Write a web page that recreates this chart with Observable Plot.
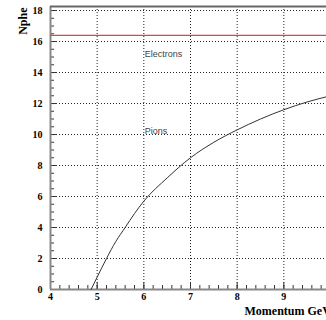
<!DOCTYPE html>
<html>
<head>
<meta charset="utf-8">
<script src="https://cdn.jsdelivr.net/npm/d3@7"></script>
<script src="https://cdn.jsdelivr.net/npm/@observablehq/plot@0.6"></script>
<style>
  html, body { margin: 0; padding: 0; background: #fff; overflow: hidden; width: 326px; height: 320px; }
  #chart svg { max-width: none !important; display: block; }
</style>
</head>
<body>
<div id="chart"></div>
<script>
// Cherenkov photoelectron yield versus momentum
const momentum  = [4.87, 5.0, 5.2, 5.4, 5.6, 5.8, 6.0, 6.5, 7.0, 7.5, 8.0, 8.5, 9.0, 9.5, 10.0];
const pionNphe  = [0.0, 0.8, 2.0, 3.1, 4.0, 4.9, 5.7, 7.2, 8.5, 9.5, 10.3, 11.0, 11.6, 12.1, 12.5];
const electronNphe = 16.4;

const xTickLabels = [4, 5, 6, 7, 8, 9];
const yTickLabels = [0, 2, 4, 6, 8, 10, 12, 14, 16, 18];

const xDomain = [4, 10];
const yDomain = [0, 18.26];

const width = 380, height = 320;
const margin = {left: 50, right: 50, top: 6, bottom: 31};
const plotW = width - margin.left - margin.right;
const plotH = height - margin.top - margin.bottom;

const xMinor = d3.range(xDomain[0], xDomain[1] + 1e-9, 0.2);
const yMinor = d3.range(0, 18 + 1e-9, 0.5);

const pions = momentum.map((m, i) => ({m, n: pionNphe[i]}));

const grid = {stroke: "#222", strokeOpacity: 1, strokeWidth: 1, strokeDasharray: "1,2"};
const axisLine = {stroke: "#888", strokeWidth: 2};

const chart = Plot.plot({
  width, height,
  marginLeft: margin.left, marginRight: margin.right,
  marginTop: margin.top, marginBottom: margin.bottom,
  x: {domain: xDomain},
  y: {domain: yDomain},
  style: {fontFamily: "'Liberation Serif', 'DejaVu Serif', serif", fontWeight: "bold", fontSize: "10px", background: "#fff", color: "#000", maxWidth: "none"},
  marks: [
    Plot.gridX(xTickLabels.filter(d => d > xDomain[0]), grid),
    Plot.gridY(yTickLabels.filter(d => d > yDomain[0]), grid),
    // inward minor and major ticks
    Plot.tickY(yMinor, {y: d => d, insetRight: plotW - 4, stroke: "#333"}),
    Plot.tickY(yTickLabels, {y: d => d, insetRight: plotW - 7, stroke: "#333"}),
    Plot.tickX(xMinor, {x: d => d, insetTop: plotH - 4, stroke: "#333"}),
    Plot.tickX(xTickLabels, {x: d => d, insetTop: plotH - 7, stroke: "#333"}),
    // frame lines
    Plot.ruleX([xDomain[0]], axisLine),
    Plot.ruleY([yDomain[0]], axisLine),
    Plot.ruleY([yDomain[1]], {stroke: "#666", strokeWidth: 2}),
    // series
    Plot.ruleY([electronNphe], {stroke: "#dd4444", strokeWidth: 1.4}),
    Plot.line(pions, {x: "m", y: "n", curve: "monotone-x", stroke: "#333", strokeWidth: 1}),
    // annotations
    Plot.text(["Electrons"], {x: 6.0, y: 15.2, text: d => d, textAnchor: "start", dx: 1,
      fontFamily: "'Liberation Sans', Arial, sans-serif", fontWeight: "normal", fontSize: 9, fill: "#444"}),
    Plot.text(["Pions"], {x: 6.0, y: 10.2, text: d => d, textAnchor: "start", dx: 1,
      fontFamily: "'Liberation Sans', Arial, sans-serif", fontWeight: "normal", fontSize: 9, fill: "#444"}),
    // axes
    Plot.axisX(xTickLabels, {tickSize: 0, tickPadding: 3, label: null}),
    Plot.axisY(yTickLabels, {tickSize: 0, tickPadding: 8, label: null}),
    Plot.text(["Momentum GeV"], {frameAnchor: "bottom-left", text: d => d, textAnchor: "start", dx: 194, dy: 25, fontSize: 12}),
    Plot.text(["Nphe"], {frameAnchor: "top-left", text: d => d, rotate: -90, textAnchor: "end", dx: -32, dy: 1, fontSize: 12})
  ]
});

document.getElementById("chart").append(chart);
</script>
</body>
</html>
